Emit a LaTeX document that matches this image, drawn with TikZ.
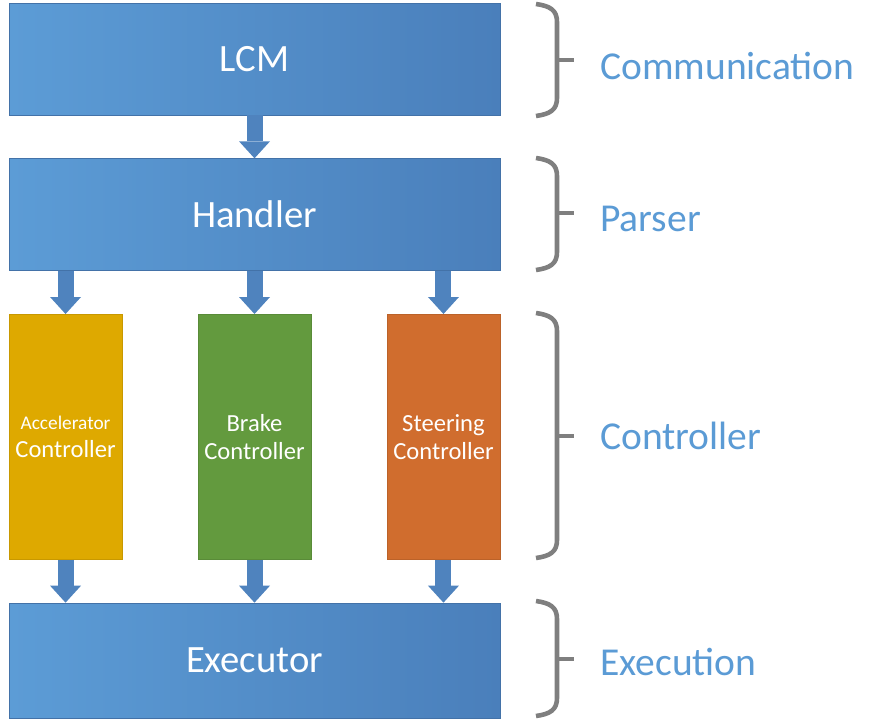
\documentclass[tikz,border=0pt]{standalone}
\usepackage{fontspec}
\setmainfont{Carlito}
\usetikzlibrary{arrows.meta, positioning}
\definecolor{cblueL}{RGB}{92,156,214}
\definecolor{cblueR}{RGB}{74,127,187}
\definecolor{carrow}{RGB}{79,131,190}
\definecolor{cyellow}{RGB}{222,169,0}
\definecolor{cgreen}{RGB}{99,154,62}
\definecolor{corange}{RGB}{208,109,46}
\definecolor{cbrace}{RGB}{127,127,127}
\definecolor{clabel}{RGB}{91,155,213}

\begin{document}
\begin{tikzpicture}[
    x=0.02cm, y=-0.02cm,
    node distance=0.86cm,
    layer/.style={minimum width=9.82cm, minimum height=#1, left color=cblueL, right color=cblueR, draw=cblueR!90!black, line width=0.4pt, text=white, font=\fontsize{22}{26}\selectfont},
    layer/.default=2.24cm,
    ctrl/.style={minimum width=2.26cm, minimum height=4.9cm, inner sep=0pt, fill=#1, draw=#1!90!black, line width=0.4pt, text=white, align=center, font=\fontsize{14}{16}\selectfont},
    flow/.style={carrow, line width=0.32cm, -{Triangle[width=0.62cm, length=0.34cm, line width=0pt]}},
    brace/.style={cbrace, line width=2.6pt},
    tag/.style={anchor=west, text=clabel, font=\fontsize{22.5}{26}\selectfont}
]
\useasboundingbox (0,0) rectangle (878,723);

\node[layer] (lcm) at (254.5,59) {LCM};
\node[layer, below=of lcm] (hdl) {Handler};
\node[ctrl=cyellow, below right=0.86cm and 0cm of hdl.south west] (acc) {{\fontsize{11}{14}\selectfont Accelerator}\\Controller};
\node[ctrl=cgreen, below=of hdl] (brk) {Brake\\Controller};
\node[ctrl=corange, below left=0.86cm and 0cm of hdl.south east] (str) {Steering\\Controller};
\node[layer=2.3cm, below=of brk] (exe) {Executor};

\draw[flow] (lcm) -- (hdl);
\draw[flow] (acc |- hdl.south) -- (acc);
\draw[flow] (hdl) -- (brk);
\draw[flow] (str |- hdl.south) -- (str);
\draw[flow] (acc) -- (acc |- exe.north);
\draw[flow] (brk) -- (exe);
\draw[flow] (str) -- (str |- exe.north);

\draw[brace] (536,4) .. controls (550,6) and (557,10) .. (557,22) -- (557,98) .. controls (557,110) and (550,114) .. (536,116);
\draw[brace] (557,60) -- (574,60);
\draw[brace] (536,158) .. controls (550,160) and (557,164) .. (557,176) -- (557,252) .. controls (557,264) and (550,268) .. (536,270);
\draw[brace] (557,213) -- (574,213);
\draw[brace] (536,313) .. controls (550,315) and (557,319) .. (557,331) -- (557,540) .. controls (557,552) and (550,556) .. (536,558);
\draw[brace] (557,436) -- (574,436);
\draw[brace] (536,601) .. controls (550,603) and (557,607) .. (557,619) -- (557,698) .. controls (557,710) and (550,714) .. (536,716);
\draw[brace] (557,659) -- (574,659);

\node[tag] (comm) at (594,66) {Communication};
\node[tag] (pars) at (594,219) {Parser};
\node[tag] (cont) at (594,436) {Controller};
\node[tag] (exec) at (594,662) {Execution};

\end{tikzpicture}
\end{document}
